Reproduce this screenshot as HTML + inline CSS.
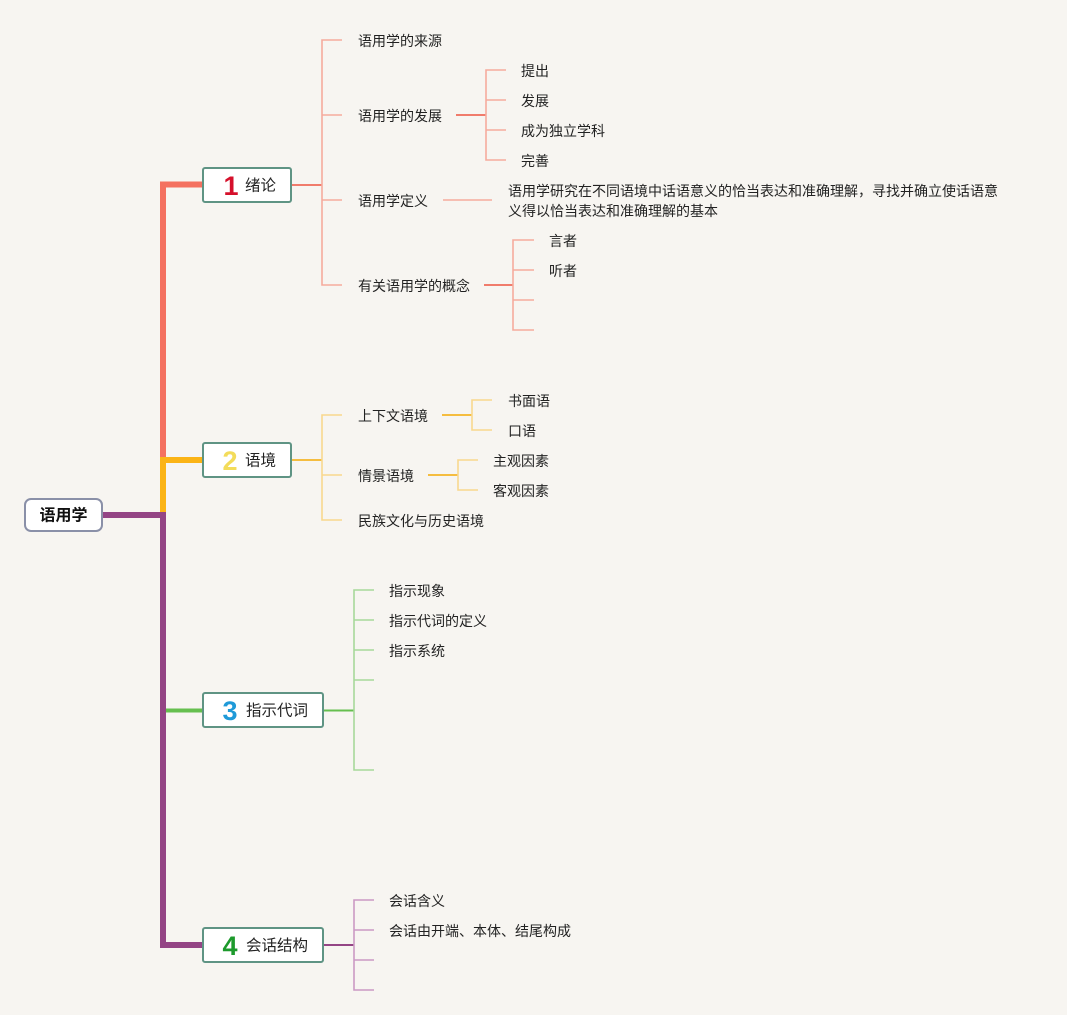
<!DOCTYPE html>
<html><head><meta charset="utf-8"><style>
html,body{margin:0;padding:0;background:#f7f5f1;}
svg{display:block;}
text{font-family:"Liberation Sans","Noto Sans CJK SC",sans-serif;}
</style></head><body>
<svg width="1067" height="1015" viewBox="0 0 1067 1015" xmlns="http://www.w3.org/2000/svg">
<rect width="1067" height="1015" fill="#f7f5f1"/>
<!-- trunk -->
<g fill="none" stroke-linecap="butt" stroke-linejoin="miter">
<path d="M163 460 L163 184.5 L202 184.5" stroke="#f47160" stroke-width="6"/>
<path d="M163 515 L163 460 L202 460" stroke="#fbb416" stroke-width="6"/>
<path d="M103 515 L163 515 L163 945 L202 945" stroke="#944585" stroke-width="6"/>
<path d="M166 710.5 L202 710.5" stroke="#66bf4f" stroke-width="4"/>
</g>
<!-- branch 1 -->
<g fill="none" stroke-width="1.6">
<path d="M292 185 L322 185" stroke="#f07c6c" stroke-width="2"/>
<path d="M342 40 L322 40 L322 285 L342 285 M322 115 L342 115 M322 200 L342 200" stroke="#f5ab9e"/>
<path d="M456 115 L486 115" stroke="#f07c6c" stroke-width="2"/>
<path d="M506 70 L486 70 L486 160 L506 160 M486 100 L506 100 M486 130 L506 130" stroke="#f5ab9e"/>
<path d="M443 200 L492 200" stroke="#f5ab9e"/>
<path d="M484 285 L513 285" stroke="#f07c6c" stroke-width="2"/>
<path d="M534 240 L513 240 L513 330 L534 330 M513 270 L534 270 M513 300 L534 300" stroke="#f5ab9e"/>
</g>
<!-- branch 2 -->
<g fill="none" stroke-width="1.6">
<path d="M292 460 L322 460" stroke="#f5bd40" stroke-width="2"/>
<path d="M342 415 L322 415 L322 520 L342 520 M322 475 L342 475" stroke="#f9d88e"/>
<path d="M442 415 L472 415" stroke="#f5bd40" stroke-width="2"/>
<path d="M492 400 L472 400 L472 430 L492 430" stroke="#f9d88e"/>
<path d="M428 475 L458 475" stroke="#f5bd40" stroke-width="2"/>
<path d="M478 460 L458 460 L458 490 L478 490" stroke="#f9d88e"/>
</g>
<!-- branch 3 -->
<g fill="none" stroke-width="1.6">
<path d="M324 710.5 L354 710.5" stroke="#66bf4f" stroke-width="2"/>
<path d="M374 590 L354 590 L354 770 L374 770 M354 620 L374 620 M354 650 L374 650 M354 680 L374 680" stroke="#a7d99a"/>
</g>
<!-- branch 4 -->
<g fill="none" stroke-width="1.6">
<path d="M324 945 L354 945" stroke="#944585" stroke-width="2"/>
<path d="M374 900 L354 900 L354 990 L374 990 M354 930 L374 930 M354 960 L374 960" stroke="#cc9ac4"/>
</g>
<!-- root -->
<rect x="25" y="499" width="77" height="32" rx="6" fill="#fff" stroke="#8a90a8" stroke-width="2"/>
<text x="63.5" y="516" font-size="16" font-weight="bold" text-anchor="middle" dominant-baseline="central" style="fill:#111">语用学</text>
<!-- main boxes -->
<g fill="#fff" stroke="#5f9484" stroke-width="2">
<rect x="203" y="168" width="88" height="34" rx="2"/>
<rect x="203" y="443" width="88" height="34" rx="2"/>
<rect x="203" y="693" width="120" height="34" rx="2"/>
<rect x="203" y="928" width="120" height="34" rx="2"/>
</g>
<g font-size="27" font-weight="bold" text-anchor="middle" dominant-baseline="central">
<text x="231" y="186" style="fill:#d5102b">1</text>
<text x="230" y="461" style="fill:#f3dc5a">2</text>
<text x="230" y="711" style="fill:#1f9ad8">3</text>
<text x="230" y="946" style="fill:#1d9a2c">4</text>
</g>
<g font-size="15.5" dominant-baseline="central" style="fill:#222">
<text x="245" y="186">绪论</text>
<text x="245" y="461">语境</text>
<text x="246" y="711">指示代词</text>
<text x="246" y="946">会话结构</text>
</g>
<!-- leaf texts -->
<g font-size="14" dominant-baseline="central" style="fill:#222">
<text x="358" y="41">语用学的来源</text>
<text x="358" y="116">语用学的发展</text>
<text x="521" y="71">提出</text>
<text x="521" y="101">发展</text>
<text x="521" y="131">成为独立学科</text>
<text x="521" y="161">完善</text>
<text x="358" y="201">语用学定义</text>
<text x="508" y="191">语用学研究在不同语境中话语意义的恰当表达和准确理解，寻找并确立使话语意</text>
<text x="508" y="211">义得以恰当表达和准确理解的基本</text>
<text x="358" y="286">有关语用学的概念</text>
<text x="549" y="241">言者</text>
<text x="549" y="271">听者</text>
<text x="358" y="416">上下文语境</text>
<text x="508" y="401">书面语</text>
<text x="508" y="431">口语</text>
<text x="358" y="476">情景语境</text>
<text x="493" y="461">主观因素</text>
<text x="493" y="491">客观因素</text>
<text x="358" y="521">民族文化与历史语境</text>
<text x="389" y="591">指示现象</text>
<text x="389" y="621">指示代词的定义</text>
<text x="389" y="651">指示系统</text>
<text x="389" y="901">会话含义</text>
<text x="389" y="931">会话由开端、本体、结尾构成</text>
</g>
</svg>
</body></html>
